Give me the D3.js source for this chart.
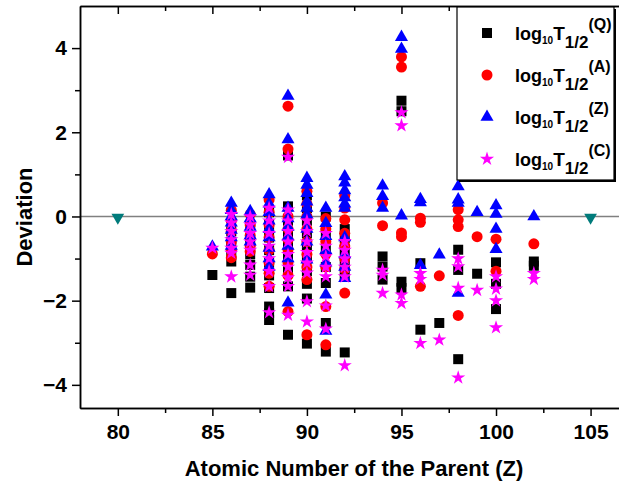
<!DOCTYPE html>
<html>
<head>
<meta charset="utf-8">
<script src="https://cdn.jsdelivr.net/npm/d3@7"></script>
<style>
  body { margin: 0; background: #fff; }
  svg { display: block; font-family: Arial, "Liberation Sans", sans-serif; font-weight: bold; }
</style>
</head>
<body>
<div id="chart"></div>
<script>
// Deviation values per parent Z, one list per model
const devQ = [
  [85, [-1.39]],
  [86, [-0.35, -0.6, -0.85, -1.07, -1.82]],
  [87, [-0.2, -0.6, -0.9, -1.15, -1.43, -1.69]],
  [88, [0.1, -0.2, -0.5, -0.8, -1.1, -1.4, -1.7, -2.14, -2.3, -2.46]],
  [89, [1.45, 0.24, -0.1, -0.4, -0.7, -1.0, -1.3, -1.66, -2.81]],
  [90, [0.5, 0.2, -0.1, -0.4, -0.7, -1.0, -1.3, -1.6, -1.95, -3.02]],
  [91, [0.0, -0.4, -0.8, -1.2, -1.58, -2.53, -3.21]],
  [92, [-0.3, -0.51, -0.8, -1.1, -1.4, -3.23]],
  [94, [-0.95, -1.19, -1.5]],
  [95, [2.75, 2.5, -1.55, -1.7]],
  [96, [-1.11, -2.69]],
  [97, [-2.53]],
  [98, [-0.79, -1.27, -3.39]],
  [99, [-1.36]],
  [100, [-1.09, -1.6, -2.2]],
  [102, [-1.07, -1.17]]
];

const devA = [
  [85, [-0.89]],
  [86, [0.15, -0.1, -0.35, -0.6, -0.8, -0.98]],
  [87, [0.05, -0.2, -0.45, -0.7, -0.83]],
  [88, [0.4, 0.1, -0.2, -0.5, -0.8, -1.1, -1.35, -1.66]],
  [89, [2.62, 1.6, 0.0, -0.3, -0.55, -0.79, -1.1, -1.4, -2.26]],
  [90, [0.6, 0.3, 0.0, -0.3, -0.6, -0.9, -1.2, -1.5, -2.81]],
  [91, [-0.05, -0.3, -0.6, -0.9, -1.2, -2.14, -3.05]],
  [92, [0.5, 0.2, -0.08, -0.4, -0.7, -1.0, -1.25, -1.82]],
  [94, [0.32, -0.22]],
  [95, [3.79, 3.55, -0.39, -0.48]],
  [96, [-0.04, -0.14, -1.66]],
  [97, [-1.41]],
  [98, [0.16, -0.08, -0.24, -2.35]],
  [99, [-0.48]],
  [100, [-0.54, -1.3]],
  [102, [-0.65]]
];

const devZ = [
  [85, [-0.72]],
  [86, [0.32, 0.15, 0.0, -0.15, -0.32, -0.5, -0.7]],
  [87, [0.12, -0.05, -0.25, -0.45, -0.6]],
  [88, [0.52, 0.3, 0.1, -0.1, -0.3, -0.5, -0.75, -1.0, -1.2]],
  [89, [2.86, 1.83, 0.2, -0.05, -0.25, -0.48, -0.7, -1.0, -2.05]],
  [90, [0.91, 0.75, 0.55, 0.35, 0.2, 0.04, -0.3, -0.6, -1.03]],
  [91, [0.2, -0.16, -0.47, -0.8, -1.1, -1.86, -2.72]],
  [92, [0.95, 0.8, 0.62, 0.45, 0.3, 0.2, -0.5, -0.9, -1.2, -1.47]],
  [94, [0.73, 0.48, 0.2]],
  [95, [4.26, 3.98, 0.02]],
  [96, [0.41, 0.33, -1.16]],
  [97, [-0.91]],
  [98, [0.71, 0.4, 0.32, -1.82]],
  [99, [0.1]],
  [100, [0.26, 0.06, -0.3, -0.78]],
  [102, [0.0]]
];

const devC = [
  [85, [-0.75]],
  [86, [0.05, -0.15, -0.35, -0.55, -0.75, -0.87, -1.43]],
  [87, [0.0, -0.2, -0.4, -0.6, -0.8, -1.15, -1.39]],
  [88, [0.2, -0.1, -0.4, -0.7, -1.0, -1.3, -1.66, -2.28]],
  [89, [1.41, 0.16, -0.1, -0.35, -0.6, -0.9, -1.2, -1.45, -1.66, -2.34]],
  [90, [-0.1, -0.35, -0.6, -0.85, -1.1, -1.34, -2.02, -2.5]],
  [91, [-0.4, -0.7, -0.95, -1.2, -1.43, -2.12, -2.67]],
  [92, [-0.59, -0.8, -1.0, -1.2, -1.43, -3.54]],
  [94, [-1.27, -1.39, -1.82]],
  [95, [2.47, 2.16, -1.86, -2.06]],
  [96, [-1.35, -1.49, -3.01]],
  [97, [-2.93]],
  [98, [-1.0, -1.19, -1.7, -3.83]],
  [99, [-1.75]],
  [100, [-1.43, -1.72, -2.0, -2.64]],
  [102, [-1.35, -1.49]]
];

// the two reference markers sitting on the zero line
const refPoints = [[80, 0], [105, 0]];

const xMajor = [80, 85, 90, 95, 100, 105];
const xMinor = [82.5, 87.5, 92.5, 97.5, 102.5];
const yMajor = [-4, -2, 0, 2, 4];
const yMinor = [-3, -1, 1, 3];

const legendLabels = ['Q', 'A', 'Z', 'C'];

const width = 619, height = 482;
const svg = d3.select('#chart').append('svg')
  .attr('width', width)
  .attr('height', height);

// scales (right side of the frame runs past the picture edge)
const x = d3.scaleLinear().domain([78, 107]).range([80, 80 + 29 * 18.91]);
const y = d3.scaleLinear().domain([-4.55, 5]).range([408, 6]);

// series setup
const series = [
  { data: devQ, symbol: d3.symbolSquare, size: 100, color: '#000000' },
  { data: devA, symbol: d3.symbolCircle, size: 95, color: '#ff0000' },
  { data: devZ, symbol: d3.symbolTriangle, size: 74, color: '#0000ff' },
  { data: devC, symbol: d3.symbolStar, size: 62, color: '#ff00ff' }
];

// zero line
svg.append('line')
  .attr('x1', 80).attr('x2', width)
  .attr('y1', y(0)).attr('y2', y(0))
  .attr('stroke', '#808080')
  .attr('stroke-width', 1.5);

// points
series.forEach(s => {
  const pts = s.data.flatMap(([z, vals]) => vals.map(v => [z, v]));
  svg.append('g').selectAll('path')
    .data(pts)
    .enter()
    .append('path')
    .attr('d', d3.symbol().type(s.symbol).size(s.size))
    .attr('transform', d => `translate(${x(d[0])},${y(d[1])})`)
    .attr('fill', s.color);
});

svg.append('g').selectAll('path')
  .data(refPoints)
  .enter()
  .append('path')
  .attr('d', d3.symbol().type(d3.symbolTriangle).size(70))
  .attr('transform', d => `translate(${x(d[0])},${y(d[1]) + 1}) rotate(180)`)
  .attr('fill', '#007b7b');

// axes
function styleAxis(g) {
  g.select('.domain').attr('stroke', '#000').attr('stroke-width', 1.5);
  g.selectAll('.tick line').attr('stroke', '#000').attr('stroke-width', 1.5);
  g.selectAll('text').attr('font-size', 21).attr('font-weight', 'bold').attr('fill', '#000')
    .attr('font-family', 'Arial, "Liberation Sans", sans-serif');
}

svg.append('g')
  .attr('transform', 'translate(0,408)')
  .call(d3.axisBottom(x).tickValues(xMajor).tickSize(8).tickPadding(8).tickSizeOuter(0))
  .call(styleAxis);
svg.append('g')
  .attr('transform', 'translate(0,408)')
  .call(d3.axisBottom(x).tickValues(xMinor).tickSize(5).tickFormat('').tickSizeOuter(0))
  .call(styleAxis);

svg.append('g')
  .attr('transform', 'translate(0,6)')
  .call(d3.axisTop(x).tickValues(xMajor).tickSize(-8).tickFormat('').tickSizeOuter(0))
  .call(styleAxis);
svg.append('g')
  .attr('transform', 'translate(0,6)')
  .call(d3.axisTop(x).tickValues(xMinor).tickSize(-5).tickFormat('').tickSizeOuter(0))
  .call(styleAxis);

svg.append('g')
  .attr('transform', 'translate(80,0)')
  .call(d3.axisLeft(y).tickValues(yMajor).tickSize(8).tickPadding(5).tickSizeOuter(0))
  .call(styleAxis);
svg.append('g')
  .attr('transform', 'translate(80,0)')
  .call(d3.axisLeft(y).tickValues(yMinor).tickSize(5).tickFormat('').tickSizeOuter(0))
  .call(styleAxis);

// axis titles
svg.append('text')
  .attr('x', 354).attr('y', 476)
  .attr('text-anchor', 'middle')
  .attr('font-size', 22)
  .text('Atomic Number of the Parent (Z)');

svg.append('text')
  .attr('transform', 'translate(32,217) rotate(-90)')
  .attr('text-anchor', 'middle')
  .attr('font-size', 22)
  .text('Deviation');

// legend with drop shadow
const legend = svg.append('g');
legend.append('rect')
  .attr('x', 459).attr('y', 9).attr('width', 157).attr('height', 173)
  .attr('fill', '#000');
legend.append('rect')
  .attr('x', 457).attr('y', 7).attr('width', 157).attr('height', 173)
  .attr('fill', '#fff').attr('stroke', '#000').attr('stroke-width', 1.2);

legendLabels.forEach((lab, i) => {
  const s = series[i];
  const cy = 33 + i * 42;
  legend.append('path')
    .attr('d', d3.symbol().type(s.symbol).size(s.size))
    .attr('transform', `translate(487,${cy})`)
    .attr('fill', s.color);

  const t = legend.append('text')
    .attr('x', 515).attr('y', cy + 7)
    .attr('font-size', 18);
  t.append('tspan').text('log');
  t.append('tspan').attr('font-size', 10).attr('dy', 4).text('10');
  t.append('tspan').attr('font-size', 19).attr('dy', -4).text('T');
  t.append('tspan').attr('font-size', 17).attr('dy', 8).text('1/2');
  t.append('tspan').attr('font-size', 16).attr('dy', -18).text(`(${lab})`);
});
</script>
</body>
</html>
